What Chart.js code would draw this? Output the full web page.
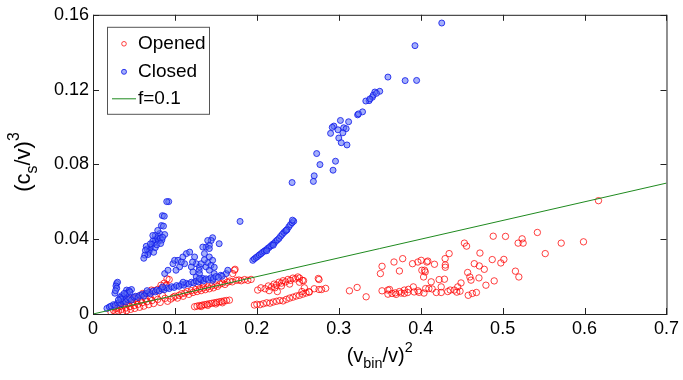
<!DOCTYPE html>
<html>
<head>
<meta charset="utf-8">
<script src="https://cdn.jsdelivr.net/npm/chart.js@4/dist/chart.umd.min.js"></script>
<style>
  html, body { margin: 0; padding: 0; background: #fff; }
</style>
</head>
<body>
<canvas id="chart" width="683" height="380"></canvas>
<script>
// values, [x, y] = [(v_bin/v)^2, (c_s/v)^3]
const openedPoints = [
  // dense group near the origin
  [0.022,0.0010],[0.025,0.0020],[0.027,0.0008],[0.029,0.0030],[0.031,0.0015],[0.033,0.0040],[0.035,0.0025],
  [0.036,0.0012],[0.038,0.0048],[0.040,0.0032],[0.041,0.0018],[0.043,0.0055],[0.045,0.0040],[0.046,0.0025],
  [0.048,0.0060],[0.050,0.0045],[0.051,0.0030],[0.053,0.0070],[0.055,0.0052],[0.057,0.0036],[0.058,0.0075],
  [0.060,0.0060],[0.062,0.0042],[0.064,0.0082],[0.066,0.0066],[0.068,0.0050],[0.070,0.0088],[0.072,0.0072],
  [0.074,0.0056],[0.076,0.0094],[0.079,0.0078],[0.082,0.0062],[0.085,0.0098],[0.088,0.0084],[0.091,0.0068],
  [0.030,0.0050],[0.034,0.0060],[0.039,0.0070],[0.044,0.0075],[0.049,0.0085],[0.054,0.0092],[0.059,0.0100],
  [0.064,0.0108],[0.069,0.0116],[0.074,0.0125],[0.079,0.0132],[0.084,0.0140],[0.089,0.0150],[0.0895,0.0154],
  [0.083,0.0154],[0.093,0.0184],[0.087,0.0165],[0.0903,0.0188],[0.0713,0.0128],[0.0608,0.0110],[0.0527,0.0083],
  // along the line 0.09 - 0.19
  [0.095,0.0080],[0.098,0.0090],[0.100,0.0095],[0.103,0.0085],[0.105,0.0100],[0.108,0.0108],[0.110,0.0095],
  [0.112,0.0112],[0.115,0.0120],[0.117,0.0105],[0.120,0.0125],[0.122,0.0115],[0.125,0.0130],[0.127,0.0120],
  [0.130,0.0135],[0.132,0.0125],[0.135,0.0140],[0.137,0.0130],[0.140,0.0145],[0.142,0.0135],[0.145,0.0150],
  [0.147,0.0140],[0.150,0.0155],[0.152,0.0148],[0.155,0.0160],[0.158,0.0165],[0.161,0.0158],[0.164,0.0170],
  [0.167,0.0176],[0.170,0.0172],[0.1734,0.0239],[0.1705,0.0216],[0.1726,0.0234],[0.175,0.0180],[0.178,0.0182],
  [0.181,0.0178],[0.185,0.0184],[0.189,0.0180],[0.193,0.0185],[0.128,0.0160],[0.135,0.0165],[0.160,0.0185],
  // low row 0.12 - 0.17
  [0.124,0.0039],[0.127,0.0042],[0.130,0.0045],[0.133,0.0047],[0.136,0.0050],[0.139,0.0052],[0.142,0.0055],
  [0.145,0.0057],[0.148,0.0060],[0.151,0.0062],[0.154,0.0065],[0.157,0.0067],[0.160,0.0070],[0.163,0.0072],
  [0.1665,0.0074],[0.132,0.0040],[0.140,0.0046],[0.150,0.0054],[0.158,0.0060],
  // 0.19 - 0.26
  [0.197,0.0048],[0.200,0.0052],[0.204,0.0050],[0.208,0.0055],[0.212,0.0060],[0.216,0.0058],[0.220,0.0064],
  [0.224,0.0068],[0.228,0.0072],[0.232,0.0070],[0.236,0.0078],[0.240,0.0085],[0.244,0.0090],[0.248,0.0096],
  [0.252,0.0100],[0.256,0.0106],[0.260,0.0112],[0.264,0.0117],
  [0.201,0.0128],[0.205,0.0140],[0.210,0.0135],[0.214,0.0150],[0.218,0.0145],[0.221,0.0160],[0.224,0.0155],
  [0.227,0.0170],[0.230,0.0165],[0.232,0.0178],[0.235,0.0172],[0.238,0.0185],[0.241,0.0180],[0.244,0.0192],
  [0.247,0.0188],[0.250,0.0198],[0.2556,0.0180],[0.252,0.0170],[0.230,0.0150],[0.222,0.0140],[0.215,0.0125],
  [0.225,0.0120],[0.240,0.0160],[0.252,0.0192],[0.257,0.0178],[0.258,0.0140],[0.255,0.0120],
  // scattered 0.26 - 0.62
  [0.2759,0.0184],[0.275,0.0190],[0.284,0.0137],[0.2637,0.0119],[0.270,0.0135],[0.279,0.0131],[0.2759,0.0131],
  [0.313,0.0124],[0.3224,0.0142],[0.3334,0.0092],[0.3508,0.0216],[0.3528,0.0255],[0.3528,0.0124],[0.362,0.0131],
  [0.360,0.0106],[0.3674,0.0278],[0.374,0.0230],[0.378,0.0296],[0.369,0.0113],[0.374,0.0120],[0.380,0.0128],
  [0.385,0.0132],[0.380,0.0110],[0.391,0.0145],[0.390,0.0269],[0.3966,0.0124],[0.3966,0.0278],[0.4047,0.0234],
  [0.4075,0.0278],[0.4006,0.0287],[0.4014,0.0234],[0.4087,0.0283],[0.4168,0.0266],[0.4128,0.0172],[0.406,0.0136],
  [0.410,0.0136],[0.414,0.0134],[0.4035,0.0198],[0.4055,0.0225],[0.4298,0.0296],[0.4347,0.0323],[0.430,0.0250],
  [0.430,0.0262],[0.4225,0.0184],[0.429,0.0186],[0.425,0.0145],[0.441,0.0128],[0.4452,0.0145],[0.4492,0.0166],
  [0.4533,0.0379],[0.456,0.0363],[0.4573,0.0222],[0.460,0.0198],[0.4614,0.0181],[0.4654,0.0269],[0.4723,0.0326],
  [0.4715,0.0257],[0.4776,0.0239],[0.4711,0.0193],[0.4796,0.0154],[0.4873,0.0291],[0.4885,0.0416],[0.4897,0.0177],
  [0.4978,0.0273],[0.5015,0.0292],[0.5035,0.0415],[0.5156,0.0229],[0.5198,0.0198],[0.5189,0.0379],[0.5238,0.0402],
  [0.525,0.0379],[0.5424,0.0436],[0.552,0.0323],[0.5715,0.0379],[0.5987,0.0386],[0.617,0.0606],
  [0.365,0.0110],[0.370,0.0105],[0.376,0.0112],[0.384,0.0115],[0.392,0.0118],[0.398,0.0116],[0.404,0.0112],
  [0.419,0.0115],[0.425,0.0115],[0.433,0.0120],[0.436,0.0128],[0.444,0.0117],[0.448,0.0122],[0.458,0.0100],
  [0.463,0.0110],[0.468,0.0115],[0.360,0.0128]
];

const closedPoints = [
  // upper branch
  [0.4257,0.1556],[0.393,0.1435],[0.360,0.1267],[0.381,0.1248],[0.395,0.1249],[0.350,0.1191],[0.344,0.1187],
  [0.341,0.1159],[0.337,0.1141],[0.333,0.1139],[0.329,0.1081],[0.323,0.1065],[0.302,0.1035],[0.312,0.1028],
  [0.294,0.1005],[0.292,0.0998],[0.299,0.0985],[0.306,0.0996],[0.309,0.0991],[0.290,0.0966],[0.305,0.0969],
  [0.300,0.0941],[0.303,0.0916],[0.310,0.0904],[0.273,0.0858],[0.296,0.0817],[0.277,0.0799],[0.293,0.0769],
  [0.270,0.0739],[0.269,0.0709],[0.243,0.0703],[0.342,0.1170],[0.346,0.1180],[0.324,0.1070],[0.338,0.1150],
  // straight band 0.19 - 0.25
  [0.195,0.0287],[0.197,0.0295],[0.199,0.0302],[0.201,0.0308],[0.203,0.0316],[0.205,0.0322],[0.207,0.0330],
  [0.209,0.0336],[0.211,0.0342],[0.213,0.0350],[0.215,0.0356],[0.217,0.0364],[0.219,0.0372],[0.221,0.0378],
  [0.223,0.0388],[0.225,0.0396],[0.227,0.0404],[0.229,0.0416],[0.231,0.0426],[0.233,0.0436],[0.235,0.0444],
  [0.237,0.0452],[0.239,0.0466],[0.241,0.0478],[0.243,0.0488],[0.245,0.0496],[0.2435,0.0502],[0.236,0.0448],
  [0.212,0.0338],[0.220,0.0368],[0.1795,0.0495],
  // group 0.06 - 0.095
  [0.0924,0.0601],[0.0900,0.0601],[0.0847,0.0526],[0.0870,0.0523],[0.0835,0.0473],[0.0860,0.0470],[0.0814,0.0430],
  [0.0875,0.0425],[0.0800,0.0415],[0.0780,0.0405],[0.0760,0.0398],[0.0745,0.0380],[0.0730,0.0390],[0.0720,0.0372],
  [0.0705,0.0355],[0.0690,0.0340],[0.0680,0.0330],[0.0670,0.0318],[0.0660,0.0348],[0.0650,0.0362],[0.0640,0.0340],
  [0.0632,0.0315],[0.0620,0.0298],[0.0740,0.0330],[0.0760,0.0355],[0.0800,0.0390],[0.0820,0.0405],[0.0840,0.0395],
  [0.0850,0.0410],[0.0780,0.0370],[0.0700,0.0375],[0.0760,0.0420],[0.0790,0.0447],[0.0730,0.0420],[0.0826,0.0377],
  // group 0.09 - 0.165
  [0.0875,0.0216],[0.0915,0.0234],[0.0976,0.0269],[0.0996,0.0287],[0.1037,0.0287],[0.1097,0.0305],[0.1118,0.0269],
  [0.1057,0.0252],[0.1200,0.0252],[0.1220,0.0225],[0.1260,0.0198],[0.1240,0.0305],[0.1260,0.0269],[0.1300,0.0252],
  [0.1140,0.0323],[0.1180,0.0331],[0.1078,0.0278],[0.1013,0.0234],[0.1296,0.0234],[0.1215,0.0278],
  [0.146,0.0408],[0.1442,0.0393],[0.140,0.0393],[0.142,0.0367],[0.138,0.0358],[0.134,0.0358],[0.142,0.0350],
  [0.136,0.0323],[0.142,0.0305],[0.146,0.0287],[0.132,0.0269],[0.138,0.0252],[0.142,0.0234],[0.148,0.0216],
  [0.130,0.0216],[0.134,0.0190],[0.146,0.0180],[0.154,0.0376],[0.1625,0.0216],[0.156,0.0207],[0.1645,0.0234],
  [0.1576,0.0202],[0.140,0.0275],[0.144,0.0260],[0.136,0.0290],[0.148,0.0250],
  // band just over the line
  [0.017,0.0030],[0.020,0.0038],[0.022,0.0042],[0.025,0.0050],[0.027,0.0046],[0.030,0.0058],[0.032,0.0062],
  [0.034,0.0055],[0.036,0.0068],[0.038,0.0072],[0.040,0.0065],[0.042,0.0078],[0.045,0.0082],[0.047,0.0075],
  [0.050,0.0090],[0.052,0.0095],[0.055,0.0088],[0.057,0.0100],[0.060,0.0104],[0.062,0.0096],[0.065,0.0110],
  [0.068,0.0115],[0.070,0.0108],[0.073,0.0122],[0.076,0.0118],[0.078,0.0128],[0.081,0.0124],[0.084,0.0134],
  [0.087,0.0130],[0.090,0.0140],[0.093,0.0136],[0.096,0.0146],[0.099,0.0142],[0.102,0.0152],[0.105,0.0148],
  [0.108,0.0158],[0.111,0.0154],[0.114,0.0164],[0.117,0.0160],[0.120,0.0170],[0.123,0.0166],[0.126,0.0176],
  [0.129,0.0172],[0.132,0.0182],[0.135,0.0178],[0.138,0.0188],[0.141,0.0184],[0.144,0.0194],[0.147,0.0190],
  [0.150,0.0200],[0.153,0.0196],[0.066,0.0125],[0.085,0.0145],[0.110,0.0170],[0.130,0.0190],
  // small group 0.025 - 0.05
  [0.0288,0.0163],[0.0300,0.0170],[0.0280,0.0150],[0.0290,0.0138],[0.0267,0.0111],[0.0275,0.0125],[0.0410,0.0128],
  [0.0470,0.0131],[0.0440,0.0125],[0.0420,0.0112],[0.0395,0.0105],[0.0368,0.0092],[0.0350,0.0098],[0.0330,0.0088],
  [0.0450,0.0118],[0.0380,0.0110],[0.0340,0.0080],[0.0310,0.0075]
];

// f = 0.1 line
const lineX = [0, 0.7];
const lineY = [0, 0.07];

const xTicks = [0, 0.1, 0.2, 0.3, 0.4, 0.5, 0.6, 0.7];
const yTicks = [0, 0.04, 0.08, 0.12, 0.16];

const legendLabels = ['Opened', 'Closed', 'f=0.1'];

const FONT = '"Liberation Sans", Arial, Helvetica, sans-serif';
const redEdge = 'rgba(255,0,0,0.75)';
const blueEdge = 'rgba(20,30,235,0.85)';
const blueFill = 'rgba(90,110,245,0.55)';
const green = '#1f8a1f';

function toXY(arr) {
  return arr.map(p => ({x: p[0], y: p[1]}));
}

// text with sub/superscripts, parts: [text, 0|-1|1]
function drawRich(ctx, parts, cx, cy, size) {
  let widths = parts.map(p => {
    ctx.font = (p[1] === 0 ? size : size * 0.72) + 'px ' + FONT;
    return ctx.measureText(p[0]).width;
  });
  let total = widths.reduce((a, b) => a + b, 0);
  let x = cx - total / 2;
  ctx.textBaseline = 'middle';
  ctx.textAlign = 'left';
  parts.forEach((p, i) => {
    ctx.font = (p[1] === 0 ? size : size * 0.72) + 'px ' + FONT;
    let dy = p[1] === -1 ? size * 0.38 : (p[1] === 1 ? -size * 0.42 : 0);
    ctx.fillText(p[0], x, cy + dy);
    x += widths[i];
  });
}

const framePlugin = {
  id: 'frame',
  afterDraw(chart) {
    const ctx = chart.ctx;
    const a = chart.chartArea;
    const xs = chart.scales.x, ys = chart.scales.y;
    ctx.save();
    ctx.strokeStyle = '#222';
    ctx.lineWidth = 1;
    ctx.strokeRect(a.left + 0.5, a.top + 0.5, a.right - a.left, a.bottom - a.top);
    ctx.beginPath();
    xTicks.forEach(v => {
      let px = Math.round(xs.getPixelForValue(v)) + 0.5;
      ctx.moveTo(px, a.bottom); ctx.lineTo(px, a.bottom - 6);
      ctx.moveTo(px, a.top); ctx.lineTo(px, a.top + 6);
    });
    yTicks.forEach(v => {
      let py = Math.round(ys.getPixelForValue(v)) + 0.5;
      ctx.moveTo(a.left, py); ctx.lineTo(a.left + 6, py);
      ctx.moveTo(a.right, py); ctx.lineTo(a.right - 6, py);
    });
    ctx.stroke();

    // legend box
    let lx = a.left + 14, ly = a.top + 12, lw = 102, lh = 87;
    ctx.fillStyle = '#fff';
    ctx.fillRect(lx, ly, lw, lh);
    ctx.strokeStyle = '#555';
    ctx.strokeRect(lx + 0.5, ly + 0.5, lw, lh);
    ctx.font = '19px ' + FONT;
    ctx.textBaseline = 'middle';
    ctx.textAlign = 'left';
    let rows = [ly + 17, ly + 45, ly + 72];
    ctx.lineWidth = 1;
    ctx.beginPath();
    ctx.arc(lx + 17, rows[0], 2.3, 0, Math.PI * 2);
    ctx.strokeStyle = redEdge;
    ctx.stroke();
    ctx.beginPath();
    ctx.arc(lx + 17, rows[1], 2.5, 0, Math.PI * 2);
    ctx.fillStyle = blueFill;
    ctx.fill();
    ctx.strokeStyle = blueEdge;
    ctx.stroke();
    ctx.beginPath();
    ctx.moveTo(lx + 5, rows[2]); ctx.lineTo(lx + 29, rows[2]);
    ctx.strokeStyle = green;
    ctx.stroke();
    ctx.fillStyle = '#000';
    ctx.fillText(legendLabels[0], lx + 31, rows[0]);
    ctx.fillText(legendLabels[1], lx + 31, rows[1]);
    ctx.fillText(legendLabels[2], lx + 31, rows[2]);

    // axis titles
    ctx.fillStyle = '#000';
    drawRich(ctx, [['(v', 0], ['bin', -1], ['/v)', 0], ['2', 1]], (a.left + a.right) / 2, 356, 20);
    ctx.translate(24, 162);
    ctx.rotate(-Math.PI / 2);
    drawRich(ctx, [['(c', 0], ['s', -1], ['/v)', 0], ['3', 1]], 0, 0, 22);
    ctx.restore();
  }
};

const ctx = document.getElementById('chart').getContext('2d');
const chart = new Chart(ctx, {
  type: 'scatter',
  data: {
    datasets: [
      {
        label: 'f=0.1',
        type: 'line',
        data: lineX.map((x, i) => ({x: x, y: lineY[i]})),
        borderColor: green,
        borderWidth: 1,
        pointRadius: 0,
        fill: false,
        order: 0
      },
      {
        label: 'Closed',
        data: toXY(closedPoints),
        pointRadius: 3,
        borderWidth: 1,
        borderColor: blueEdge,
        backgroundColor: blueFill,
        order: 1
      },
      {
        label: 'Opened',
        data: toXY(openedPoints),
        pointRadius: 3.2,
        borderWidth: 1,
        borderColor: redEdge,
        backgroundColor: 'rgba(0,0,0,0)',
        order: 2
      }
    ]
  },
  options: {
    responsive: false,
    animation: false,
    events: [],
    layout: { padding: { top: 13, right: 14, left: 0, bottom: 0 } },
    plugins: { legend: { display: false }, tooltip: { enabled: false } },
    scales: {
      x: {
        type: 'linear',
        min: 0, max: 0.7,
        afterFit: s => { s.height = 66; },
        afterBuildTicks: s => { s.ticks = xTicks.map(v => ({value: v})); },
        grid: { display: false, drawTicks: false },
        border: { display: false },
        ticks: { color: '#000', font: { family: FONT, size: 18 }, padding: 4, maxRotation: 0,
                 callback: v => String(v) }
      },
      y: {
        type: 'linear',
        min: 0, max: 0.16,
        afterFit: s => { s.width = 93; },
        afterBuildTicks: s => { s.ticks = yTicks.map(v => ({value: v})); },
        grid: { display: false, drawTicks: false },
        border: { display: false },
        ticks: { color: '#000', font: { family: FONT, size: 18 }, padding: 4,
                 callback: v => String(v) }
      }
    }
  },
  plugins: [framePlugin]
});
</script>
</body>
</html>
